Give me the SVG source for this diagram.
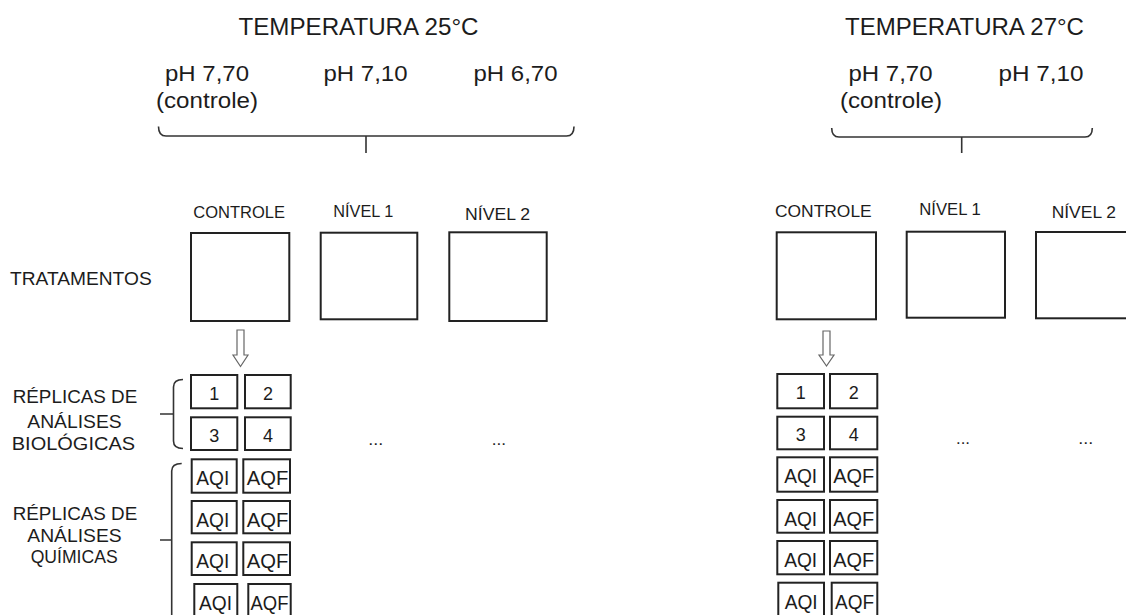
<svg xmlns="http://www.w3.org/2000/svg" width="1126" height="615" viewBox="0 0 1126 615">
<style>
.t{font-family:"Liberation Sans",Arial,sans-serif;fill:#1c1c1c}
.h{font-size:24px}
.p{font-size:22.5px}
.lbl{font-size:16.5px}
.side{font-size:18.5px;text-anchor:middle}
.num{font-size:18px;text-anchor:middle}
.aq{font-size:20.5px;text-anchor:middle}
.dots{font-size:16px}
.box{fill:#fff;stroke:#222;stroke-width:2}
.brace{fill:none;stroke:#333;stroke-width:1.6}
.arrow{fill:#fff;stroke:#666;stroke-width:1.2}
</style>
<rect width="1126" height="615" fill="#fff"/>

<g id="headers">
  <text class="t h" x="238.5" y="35" textLength="240" lengthAdjust="spacingAndGlyphs">TEMPERATURA 25°C</text>
  <text class="t p" x="165" y="81" textLength="84" lengthAdjust="spacingAndGlyphs">pH 7,70</text>
  <text class="t p" x="156" y="108" textLength="102" lengthAdjust="spacingAndGlyphs">(controle)</text>
  <text class="t p" x="323.5" y="81" textLength="84" lengthAdjust="spacingAndGlyphs">pH 7,10</text>
  <text class="t p" x="473.5" y="81" textLength="84" lengthAdjust="spacingAndGlyphs">pH 6,70</text>

  <text class="t h" x="845" y="35" textLength="239" lengthAdjust="spacingAndGlyphs">TEMPERATURA 27°C</text>
  <text class="t p" x="848.5" y="81" textLength="84" lengthAdjust="spacingAndGlyphs">pH 7,70</text>
  <text class="t p" x="840" y="108" textLength="102" lengthAdjust="spacingAndGlyphs">(controle)</text>
  <text class="t p" x="998.5" y="81" textLength="85" lengthAdjust="spacingAndGlyphs">pH 7,10</text>
</g>

<g id="row-labels">
  <text class="t" x="10" y="285" font-size="18.5" textLength="141.7" lengthAdjust="spacingAndGlyphs">TRATAMENTOS</text>
  <text class="t side" x="75" y="403.3" textLength="124.6" lengthAdjust="spacingAndGlyphs">RÉPLICAS DE</text>
  <text class="t side" x="74.5" y="428.3" textLength="94.4" lengthAdjust="spacingAndGlyphs">ANÁLISES</text>
  <text class="t side" x="73.4" y="450" textLength="123.3" lengthAdjust="spacingAndGlyphs">BIOLÓGICAS</text>
  <text class="t side" x="75" y="520" textLength="124.6" lengthAdjust="spacingAndGlyphs">RÉPLICAS DE</text>
  <text class="t side" x="74.5" y="541.7" textLength="94.4" lengthAdjust="spacingAndGlyphs">ANÁLISES</text>
  <text class="t side" x="74.2" y="563" textLength="87" lengthAdjust="spacingAndGlyphs">QUÍMICAS</text>
</g>

<g id="t25-controle">
  <text class="t lbl" x="193.3" y="218.3" textLength="91.7" lengthAdjust="spacingAndGlyphs">CONTROLE</text>
  <rect class="box" x="191" y="233" width="98.3" height="88"/>
</g>
<g id="t25-nivel1">
  <text class="t lbl" x="333.3" y="216.7" textLength="60" lengthAdjust="spacingAndGlyphs">NÍVEL 1</text>
  <rect class="box" x="320.7" y="232.7" width="96.6" height="86.6"/>
</g>
<g id="t25-nivel2">
  <text class="t lbl" x="465" y="220" textLength="65" lengthAdjust="spacingAndGlyphs">NÍVEL 2</text>
  <rect class="box" x="449.3" y="232.3" width="97.4" height="88.7"/>
</g>

<g id="t25-replicas">
  <rect class="box" x="191" y="375" width="46.3" height="33.3"/>
  <rect class="box" x="245" y="375" width="45.7" height="33.3"/>
  <text class="t num" x="214.2" y="399.5">1</text>
  <text class="t num" x="267.9" y="399.5">2</text>
  <rect class="box" x="191" y="417.3" width="46.3" height="32.7"/>
  <rect class="box" x="245" y="417.3" width="45.7" height="32.7"/>
  <text class="t num" x="214.2" y="441.5">3</text>
  <text class="t num" x="267.9" y="441.5">4</text>
  <rect class="box" x="191.7" y="459.3" width="45" height="33.4"/>
  <rect class="box" x="243.3" y="459.3" width="46.7" height="33.4"/>
  <text class="t aq" x="212.8" y="485" textLength="33" lengthAdjust="spacingAndGlyphs">AQI</text>
  <text class="t aq" x="267.5" y="485" textLength="41.6" lengthAdjust="spacingAndGlyphs">AQF</text>
  <rect class="box" x="191.7" y="501" width="45" height="32.3"/>
  <rect class="box" x="243.3" y="501" width="46.7" height="32.3"/>
  <text class="t aq" x="212.8" y="526.5" textLength="33" lengthAdjust="spacingAndGlyphs">AQI</text>
  <text class="t aq" x="267.5" y="526.5" textLength="41.6" lengthAdjust="spacingAndGlyphs">AQF</text>
  <rect class="box" x="191.7" y="542.3" width="45" height="32.7"/>
  <rect class="box" x="243.3" y="542.3" width="46.7" height="32.7"/>
  <text class="t aq" x="212.8" y="568" textLength="33" lengthAdjust="spacingAndGlyphs">AQI</text>
  <text class="t aq" x="267.5" y="568" textLength="41.6" lengthAdjust="spacingAndGlyphs">AQF</text>
  <rect class="box" x="194.3" y="584" width="43" height="34"/>
  <rect class="box" x="248.3" y="584" width="42.4" height="34"/>
  <text class="t aq" x="215.5" y="610" textLength="33" lengthAdjust="spacingAndGlyphs">AQI</text>
  <text class="t aq" x="269.5" y="610" textLength="38" lengthAdjust="spacingAndGlyphs">AQF</text>
  <text class="t dots" x="368.3" y="445" textLength="15" lengthAdjust="spacingAndGlyphs">...</text>
  <text class="t dots" x="491.7" y="444.5" textLength="14.3" lengthAdjust="spacingAndGlyphs">...</text>
</g>

<g id="t27-controle">
  <text class="t lbl" x="775" y="216.7" textLength="96.7" lengthAdjust="spacingAndGlyphs">CONTROLE</text>
  <rect class="box" x="776.7" y="232.3" width="99.3" height="87"/>
</g>
<g id="t27-nivel1">
  <text class="t lbl" x="919.3" y="215" textLength="61.4" lengthAdjust="spacingAndGlyphs">NÍVEL 1</text>
  <rect class="box" x="906.7" y="231.7" width="98.3" height="86"/>
</g>
<g id="t27-nivel2">
  <text class="t lbl" x="1051.7" y="218.3" textLength="64.3" lengthAdjust="spacingAndGlyphs">NÍVEL 2</text>
  <rect class="box" x="1036" y="232" width="98" height="86.3"/>
</g>

<g id="t27-replicas">
  <rect class="box" x="777.3" y="374" width="46.7" height="34.3"/>
  <rect class="box" x="830" y="374" width="47.3" height="34.3"/>
  <text class="t num" x="800.7" y="398.5">1</text>
  <text class="t num" x="853.7" y="398.5">2</text>
  <rect class="box" x="777.3" y="416.7" width="46.7" height="32.6"/>
  <rect class="box" x="830" y="416.7" width="47.3" height="32.6"/>
  <text class="t num" x="800.7" y="440.5">3</text>
  <text class="t num" x="853.7" y="440.5">4</text>
  <rect class="box" x="777.3" y="457.3" width="46.7" height="34.4"/>
  <rect class="box" x="830" y="457.3" width="47.3" height="34.4"/>
  <text class="t aq" x="800.7" y="483" textLength="33" lengthAdjust="spacingAndGlyphs">AQI</text>
  <text class="t aq" x="853.7" y="483" textLength="41" lengthAdjust="spacingAndGlyphs">AQF</text>
  <rect class="box" x="777.3" y="500" width="46.7" height="32.7"/>
  <rect class="box" x="830" y="500" width="47.3" height="32.7"/>
  <text class="t aq" x="800.7" y="525.5" textLength="33" lengthAdjust="spacingAndGlyphs">AQI</text>
  <text class="t aq" x="853.7" y="525.5" textLength="41" lengthAdjust="spacingAndGlyphs">AQF</text>
  <rect class="box" x="777.3" y="541" width="46.7" height="33.3"/>
  <rect class="box" x="830" y="541" width="47.3" height="33.3"/>
  <text class="t aq" x="800.7" y="567" textLength="33" lengthAdjust="spacingAndGlyphs">AQI</text>
  <text class="t aq" x="853.7" y="567" textLength="41" lengthAdjust="spacingAndGlyphs">AQF</text>
  <rect class="box" x="778.3" y="582.7" width="45.7" height="35"/>
  <rect class="box" x="831.7" y="582.7" width="45.6" height="35"/>
  <text class="t aq" x="801.2" y="608.5" textLength="33" lengthAdjust="spacingAndGlyphs">AQI</text>
  <text class="t aq" x="854.5" y="608.5" textLength="39" lengthAdjust="spacingAndGlyphs">AQF</text>
  <text class="t dots" x="956" y="443.5" textLength="14" lengthAdjust="spacingAndGlyphs">...</text>
  <text class="t dots" x="1078.3" y="443.5" textLength="15" lengthAdjust="spacingAndGlyphs">...</text>
</g>

<g id="connectors">
  <path class="brace" d="M158.5,126.5 Q158.5,136 166,136 H566.5 Q574,136 574,126.5 M366,136 V153"/>
  <path class="brace" d="M831.7,128 Q831.7,137 839,137 H1085 Q1092.3,137 1092.3,128 M961.7,137 V153"/>
  <path class="brace" d="M183,379.5 Q173.5,379.5 173.5,387 V441 Q173.5,448.5 183,448.5 M160,414 H173.5"/>
  <path class="brace" d="M181.7,463.5 Q171.7,463.5 171.7,471 V620 M160,540 H171.7"/>
  <polygon class="arrow" points="237,330 244,330 244,355 248,355 240.5,366.5 233,355 237,355"/>
  <polygon class="arrow" points="823,331 830,331 830,355 834,355 826.5,366 819,355 823,355"/>
</g>
</svg>
